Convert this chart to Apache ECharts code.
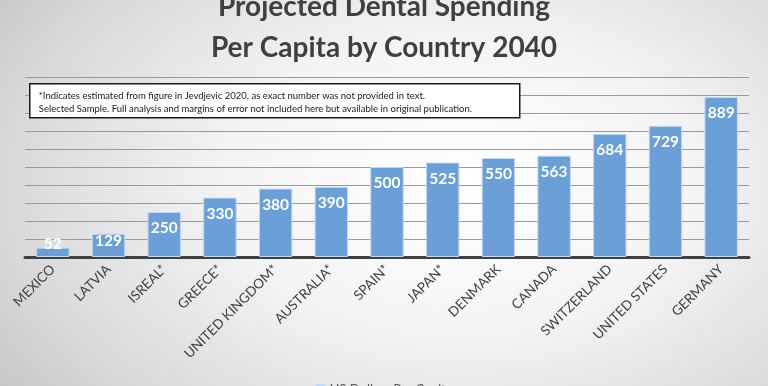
<!DOCTYPE html>
<html>
<head>
<meta charset="utf-8">
<script src="https://cdn.jsdelivr.net/npm/echarts@6/dist/echarts.min.js"></script>
<style>
html,body{margin:0;padding:0;}
#c{width:768px;height:386px;background:radial-gradient(ellipse 75% 95% at 60% 48%, #ffffff 0%, #f4f4f4 40%, #d8d8d8 80%, #c4c4c4 100%);}
</style>
</head>
<body>
<div id="c"></div>
<script>
const categories = ['MEXICO','LATVIA','ISREAL*','GREECE*','UNITED KINGDOM*','AUSTRALIA*','SPAIN*','JAPAN*','DENMARK','CANADA','SWITZERLAND','UNITED STATES','GERMANY'];
const values = [52,129,250,330,380,390,500,525,550,563,684,729,889];
const seriesName = 'US Dollars Per Capita';
const titleLines = ['Projected Dental Spending','Per Capita by Country 2040'];
const noteLines = ['*Indicates estimated from figure in Jevdjevic 2020, as exact number was not provided in text.','Selected Sample. Full analysis and margins of error not included here but available in original publication.'];

const chart = echarts.init(document.getElementById('c'), null, {renderer:'canvas'});
const font = 'Lato, "Open Sans", sans-serif';
const labelFor = (i) => i === 0 ? {position: 'top', distance: -4} : (i === 1 ? {position: 'insideTop', distance: -1} : null);
chart.setOption({
  backgroundColor: 'transparent',
  animation: false,
  title: {
    text: titleLines.join('\n'),
    left: 'center', top: -19,
    textStyle: {fontFamily: font, fontSize: 28, fontWeight: 'bold', color: '#404040', lineHeight: 41}
  },
  legend: {
    data: [seriesName], top: 378, left: 'center',
    icon: 'rect', itemWidth: 8, itemHeight: 8,
    textStyle: {fontFamily: font, fontSize: 13, color: '#595959'}
  },
  grid: {left: 25, right: 19, top: 77, bottom: 129},
  xAxis: {
    type: 'category', data: categories,
    axisLine: {lineStyle: {color: '#404040', width: 3}},
    axisTick: {show: false},
    axisLabel: {rotate: 45, interval: 0, fontFamily: font, fontSize: 13.5, color: '#404040', margin: 10}
  },
  yAxis: {
    type: 'value', min: 0, max: 1000, interval: 100,
    axisLabel: {show: false}, axisLine: {show: false}, axisTick: {show: false},
    splitLine: {lineStyle: {color: '#9a9a9a', width: 1}}
  },
  series: [{
    name: seriesName, type: 'bar',
    data: values.map((v, i) => { const l = labelFor(i); return l ? {value: v, label: l} : v; }),
    barWidth: '60%',
    itemStyle: {color: '#6a9fd8', borderColor: '#c0d8f2', borderWidth: 1},
    label: {show: true, position: 'insideTop', distance: 8, color: '#ffffff', fontFamily: font, fontSize: 15.5, fontWeight: 'bold'}
  }],
  graphic: [{
    type: 'group', left: 29, top: 83, z: 100,
    children: [
      {type: 'rect', z: 100, shape: {x: 0, y: 0, width: 490, height: 34}, style: {fill: '#ffffff', stroke: '#1a1a1a', lineWidth: 1.5}},
      {type: 'text', z: 101, left: 9, top: 5, style: {text: noteLines.join('\n'), fontFamily: font, fontSize: 9.5, lineHeight: 13.5, fill: '#1a1a1a'}}
    ]
  }]
});
</script>
</body>
</html>
